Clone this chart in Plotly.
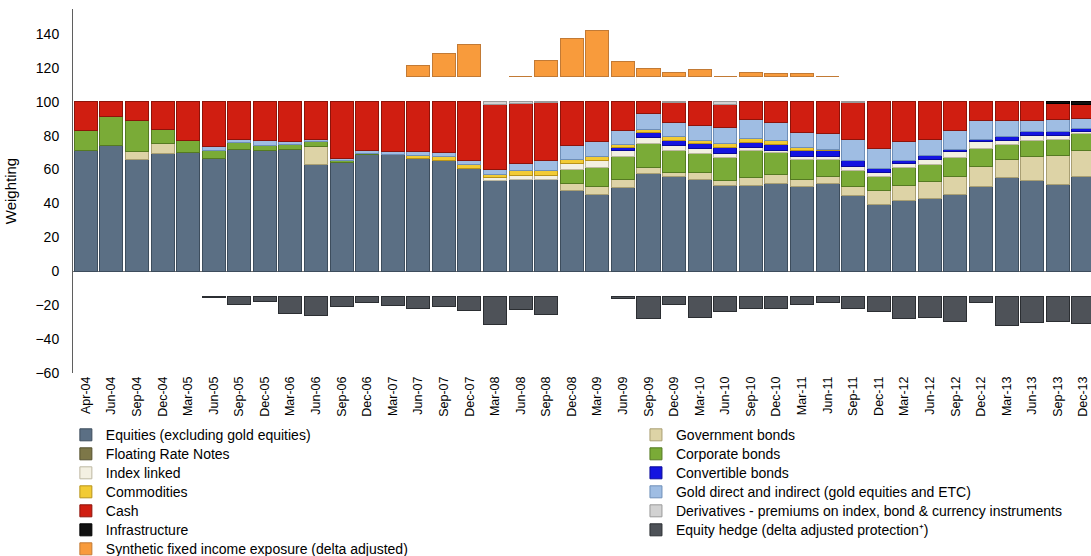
import plotly.graph_objects as go

# Quarter-end dates
quarters = [
    "Apr-04", "Jun-04", "Sep-04", "Dec-04",
    "Mar-05", "Jun-05", "Sep-05", "Dec-05",
    "Mar-06", "Jun-06", "Sep-06", "Dec-06",
    "Mar-07", "Jun-07", "Sep-07", "Dec-07",
    "Mar-08", "Jun-08", "Sep-08", "Dec-08",
    "Mar-09", "Jun-09", "Sep-09", "Dec-09",
    "Mar-10", "Jun-10", "Sep-10", "Dec-10",
    "Mar-11", "Jun-11", "Sep-11", "Dec-11",
    "Mar-12", "Jun-12", "Sep-12", "Dec-12",
    "Mar-13", "Jun-13", "Sep-13", "Dec-13",
]

# Portfolio weightings (%)
equities = [71.0, 74.4, 66.0, 69.5, 70.0, 66.6, 72.0, 71.0, 71.7, 63.2,
            64.0, 68.9, 68.9, 66.5, 65.6, 60.7, 53.8, 54.2, 54.2, 47.4,
            45.5, 49.4, 57.7, 55.7, 54.3, 50.8, 50.8, 51.8, 50.2, 51.8,
            44.9, 39.6, 41.9, 42.9, 45.5, 50.2, 55.3, 53.8, 51.4, 55.7]
government_bonds = [0, 0, 4.9, 5.9, 0, 0, 0, 0, 0, 10.6,
                    0, 0, 0, 0, 0, 0, 0, 0, 0, 4.6,
                    4.3, 4.8, 3.6, 2.6, 4.0, 3.0, 4.5, 5.1, 4.1, 4.3,
                    4.9, 7.8, 8.5, 9.8, 10.2, 11.4, 10.7, 13.7, 16.7, 15.8]
floating_rate_notes = [0] * 40
corporate_bonds = [12.3, 17.1, 18.3, 8.5, 7.0, 4.9, 4.0, 3.3, 3.1, 2.6,
                   1.6, 0.6, 0, 0, 0, 0, 0, 0, 0, 8.1,
                   11.5, 13.3, 14.1, 13.2, 11.2, 13.4, 16.2, 13.0, 11.4, 9.9,
                   9.9, 8.3, 10.6, 10.5, 11.2, 10.9, 8.8, 9.9, 9.9, 9.8]
index_linked = [0, 0, 0, 0, 0, 0, 0, 0, 0, 0,
                0, 0, 0, 0, 0, 0, 1.5, 2.5, 2.3, 3.7,
                4.3, 3.6, 3.6, 2.9, 3.0, 2.3, 1.3, 1.2, 2.2, 1.9,
                2.3, 2.6, 2.6, 3.0, 3.6, 3.9, 2.6, 2.5, 1.9, 1.2]
convertible_bonds = [0, 0, 0, 0, 0, 0, 0, 0, 0, 0,
                     0, 0, 0, 0, 0, 0, 0, 0, 0, 0,
                     0, 2.0, 2.7, 2.6, 2.9, 3.6, 3.4, 3.7, 3.6, 3.2,
                     3.2, 2.4, 2.0, 1.9, 1.4, 1.4, 1.9, 2.4, 2.8, 2.0]
commodities = [0, 0, 0, 0, 0, 0, 0, 0, 0, 0,
               0, 0, 0, 1.6, 1.9, 2.5, 2.0, 3.0, 3.0, 2.4,
               2.3, 1.7, 2.0, 2.3, 2.0, 2.3, 2.2, 2.6, 1.6, 0.8,
               0, 0, 0, 0, 0, 0, 0, 0, 0, 0]
gold = [0, 0, 0, 0, 0, 1.9, 2.0, 2.6, 1.6, 1.4,
        1.0, 2.0, 1.6, 2.4, 2.4, 2.4, 2.8, 3.9, 5.7, 7.8,
        8.5, 8.1, 9.6, 8.5, 8.4, 9.2, 11.4, 10.4, 8.8, 9.4,
        12.6, 11.8, 11.2, 9.7, 11.4, 11.4, 9.9, 6.9, 6.9, 5.9]
cash = [16.7, 8.5, 10.8, 16.1, 23.0, 26.6, 22.0, 23.1, 23.6, 22.2,
        33.4, 28.5, 29.5, 29.5, 30.1, 34.4, 38.5, 35.4, 34.1, 26.0,
        23.6, 17.1, 6.7, 11.7, 14.2, 13.9, 10.2, 12.2, 18.1, 18.7,
        21.7, 27.5, 23.2, 22.2, 16.7, 10.8, 10.8, 10.8, 9.4, 8.2]
derivatives = [0, 0, 0, 0, 0, 0, 0, 0, 0, 0,
               0, 0, 0, 0, 0, 0, 1.4, 1.0, 0.7, 0,
               0, 0, 0, 0.5, 0, 1.5, 0, 0, 0, 0,
               0.5, 0, 0, 0, 0, 0, 0, 0, 0, 0]
infrastructure = [0] * 38 + [1.0, 1.4]

# Equity hedge (delta adjusted protection), shown below the axis
equity_hedge = [None, None, None, None, None, 0.5, 4.5, 2.6, 10.0, 11.0,
                6.0, 3.5, 5.0, 7.0, 5.5, 8.0, 16.6, 7.7, 10.4, None,
                None, 0.8, 13.0, 4.7, 12.2, 9.0, 6.7, 6.7, 4.5, 3.3,
                6.7, 8.7, 12.8, 12.2, 14.6, 3.5, 17.1, 15.0, 14.6, 15.9]
# Synthetic fixed income exposure (delta adjusted), shown above the stack
synthetic_fixed_income = [None, None, None, None, None, None, None, None, None, None,
                          None, None, None, 6.3, 13.2, 18.5, None, 0, 9.6, 22.5,
                          26.8, 8.9, 4.7, 2.0, 3.9, 0, 2.5, 1.8, 1.9, 0,
                          None, None, None, None, None, None, None, None, None, None]

SYNTH_BASE = 115
HEDGE_BASE = -15

FONT = "Liberation Sans, Arial, sans-serif"


def legend_label(text):
    # larger legend text while keeping the compact row pitch of a small legend font
    return '<span style="font-size:14px">' + text + "</span>"


stack_series = [
    ("Equities (excluding gold equities)", equities, "#5B6F84", "#3D4D5D", "legend"),
    ("Government bonds", government_bonds, "#DDD3A6", "#A99F73", "legend2"),
    ("Floating Rate Notes", floating_rate_notes, "#7D7748", "#55502E", "legend"),
    ("Corporate bonds", corporate_bonds, "#7AAB37", "#557A22", "legend2"),
    ("Index linked", index_linked, "#F3F0E2", "#BDB8A2", "legend"),
    ("Convertible bonds", convertible_bonds, "#1414E0", "#0A0A99", "legend2"),
    ("Commodities", commodities, "#F2CB34", "#B8931A", "legend"),
    ("Gold direct and indirect (gold equities and ETC)", gold, "#9FBDE3", "#6F8FB8", "legend2"),
    ("Cash", cash, "#D01E11", "#8E130A", "legend"),
    ("Derivatives - premiums on index, bond & currency instruments", derivatives, "#D2D2D2", "#9A9A9A", "legend2"),
    ("Infrastructure", infrastructure, "#111111", "#000000", "legend"),
]

fig = go.Figure()

for name, vals, color, edge, leg in stack_series:
    fig.add_trace(go.Bar(
        x=quarters,
        y=[v if v else None for v in vals],
        name=legend_label(name),
        legend=leg,
        marker=dict(color=color, line=dict(color=edge, width=1)),
        hoverinfo="skip",
    ))

fig.add_trace(go.Bar(
    x=quarters,
    y=[-v if v is not None else None for v in equity_hedge],
    base=HEDGE_BASE,
    name=legend_label("Equity hedge (delta adjusted protection\u207a)"),
    legend="legend2",
    marker=dict(color="#4E5258", line=dict(color="#2B2E32", width=1)),
    hoverinfo="skip",
))

fig.add_trace(go.Bar(
    x=quarters,
    y=synthetic_fixed_income,
    base=SYNTH_BASE,
    name=legend_label("Synthetic fixed income exposure (delta adjusted)"),
    legend="legend",
    marker=dict(color="#F89B3C", line=dict(color="#C27A35", width=1)),
    hoverinfo="skip",
))

legend_style = dict(
    orientation="v",
    xanchor="left",
    yanchor="top",
    font=dict(family=FONT, size=12, color="#000000"),
    bgcolor="rgba(0,0,0,0)",
    borderwidth=0,
    traceorder="normal",
    itemclick=False,
    itemdoubleclick=False,
)

fig.update_layout(
    width=1091,
    height=556,
    barmode="stack",
    bargap=0.1,
    plot_bgcolor="#FFFFFF",
    paper_bgcolor="#FFFFFF",
    margin=dict(l=73, r=0, t=9, b=183, autoexpand=False),
    font=dict(family=FONT, size=14, color="#000000"),
    legend=dict(x=-0.007, y=-0.130, **legend_style),
    legend2=dict(x=0.553, y=-0.130, **legend_style),
    xaxis=dict(
        type="category",
        range=[-0.5, 39.3],
        tickangle=-90,
        tickfont=dict(family=FONT, size=12.5, color="#000000"),
        showline=False,
        showgrid=False,
        zeroline=False,
        ticks="",
    ),
    yaxis=dict(
        range=[-60, 154.7],
        tickvals=list(range(-60, 141, 20)),
        tickfont=dict(family=FONT, size=14, color="#000000"),
        showline=True,
        linecolor="#5F5F5F",
        linewidth=1,
        showgrid=False,
        zeroline=True,
        zerolinecolor="#6E6E6E",
        zerolinewidth=1,
        ticks="",
        ticklabelstandoff=10,
        title=dict(text="Weighting", font=dict(family=FONT, size=15, color="#000000")),
    ),
)

fig.write_html("out.html")
